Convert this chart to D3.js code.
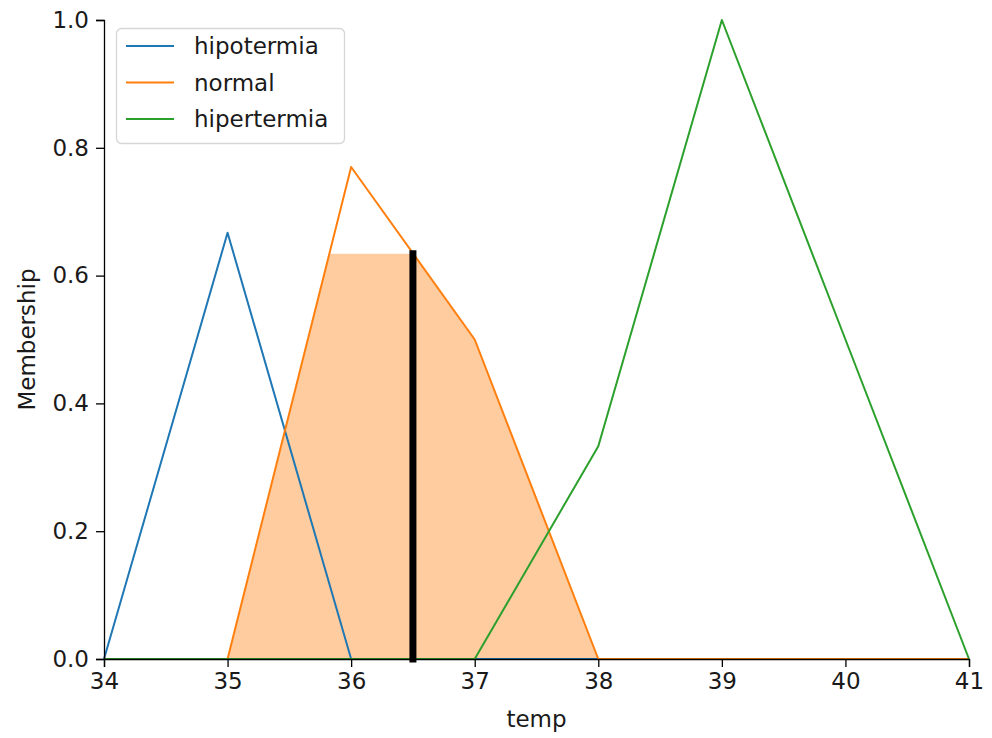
<!DOCTYPE html>
<html><head><meta charset="utf-8">
<script src="https://cdn.jsdelivr.net/npm/d3@7/dist/d3.min.js"></script>
<style>body{margin:0;background:#fff;} text{font-family:"DejaVu Sans",sans-serif;}</style>
</head><body><svg id="c" width="992" height="738"></svg>
<script>
const universe = [34, 35, 36, 37, 38, 39, 40, 41];
const hipotermia = [0, 0.667, 0, 0, 0, 0, 0, 0];
const normal = [0, 0, 0.77, 0.5, 0, 0, 0, 0];
const hipertermia = [0, 0, 0, 0, 0.333, 1.0, 0.5, 0];
const seriesNames = ["hipotermia", "normal", "hipertermia"];
const seriesColors = ["#1f77b4", "#ff7f0e", "#2ca02c"];
const activation = 0.634;
const crispOutput = 36.5;
const xTicks = [34, 35, 36, 37, 38, 39, 40, 41];
const yTicks = [0, 0.2, 0.4, 0.6, 0.8, 1.0];

const FS = 23;
const TXT = "#1a1a1a";
const svg = d3.select("#c");
const L = 104, R = 969, T = 20, B = 659;
const x = d3.scaleLinear().domain([34, 41]).range([L, R]);
const y = d3.scaleLinear().domain([0, 1]).range([B, T]);

// fill: min(normal, activation) with intersection points
const fillPts = [];
for (let i = 0; i < universe.length; i++) {
  const v = normal[i];
  if (i > 0) {
    const v0 = normal[i-1];
    if ((v0 - activation) * (v - activation) < 0) {
      const t = (activation - v0) / (v - v0);
      fillPts.push([universe[i-1] + t * (universe[i] - universe[i-1]), activation]);
    }
  }
  fillPts.push([universe[i], Math.min(v, activation)]);
}
const area = d3.area().x(d => x(d[0])).y0(y(0)).y1(d => y(d[1]));
svg.append("path").datum(fillPts).attr("d", area).attr("fill", "#ff7f0e").attr("fill-opacity", 0.4);

const line = d3.line().x(d => x(d[0])).y(d => y(d[1]));
[hipotermia, normal, hipertermia].forEach((s, k) => {
  svg.append("path").datum(universe.map((u, i) => [u, s[i]]))
    .attr("d", line).attr("fill", "none").attr("stroke", seriesColors[k])
    .attr("stroke-width", 2).attr("stroke-linejoin", "round");
});

// crisp output line
svg.append("line").attr("x1", x(crispOutput)).attr("x2", x(crispOutput))
  .attr("y1", y(0)).attr("y2", y(activation)).attr("stroke", "#000").attr("stroke-width", 7)
  .attr("stroke-linecap", "square");

// axes
const xAxis = svg.append("g").attr("transform", `translate(0,${B})`)
  .call(d3.axisBottom(x).tickValues(xTicks).tickFormat(d3.format("d")).tickSizeOuter(0).tickSize(8).tickPadding(6));
const yAxis = svg.append("g").attr("transform", `translate(${L},0)`)
  .call(d3.axisLeft(y).tickValues(yTicks).tickFormat(d3.format(".1f")).tickSizeOuter(0).tickSize(8).tickPadding(7));
[xAxis, yAxis].forEach(g => {
  g.attr("font-size", FS).attr("font-family", "DejaVu Sans");
  g.selectAll("text").attr("fill", TXT);
  g.selectAll("line").attr("stroke", "#000").attr("stroke-width", 1.3);
  g.select(".domain").attr("stroke", "#000").attr("stroke-width", 1.3);
});

svg.append("text").attr("x", (L + R) / 2).attr("y", 727).attr("text-anchor", "middle")
  .attr("font-size", FS).attr("fill", TXT).text("temp");
svg.append("text").attr("transform", `translate(35,${(T + B) / 2}) rotate(-90)`).attr("text-anchor", "middle")
  .attr("font-size", FS).attr("fill", TXT).text("Membership");

// legend
const lg = svg.append("g");
lg.append("rect").attr("x", 116.5).attr("y", 28.5).attr("width", 228).attr("height", 115).attr("rx", 5)
  .attr("fill", "#fff").attr("fill-opacity", 0.8).attr("stroke", "#d6d6d6").attr("stroke-width", 1.3);
seriesNames.forEach((n, k) => {
  const yy = 46 + k * 36.5;
  lg.append("line").attr("x1", 126).attr("x2", 174).attr("y1", yy).attr("y2", yy)
    .attr("stroke", seriesColors[k]).attr("stroke-width", 2);
  lg.append("text").attr("x", 194).attr("y", yy + 8).attr("font-size", FS).attr("fill", TXT).text(n);
});
</script></body></html>
